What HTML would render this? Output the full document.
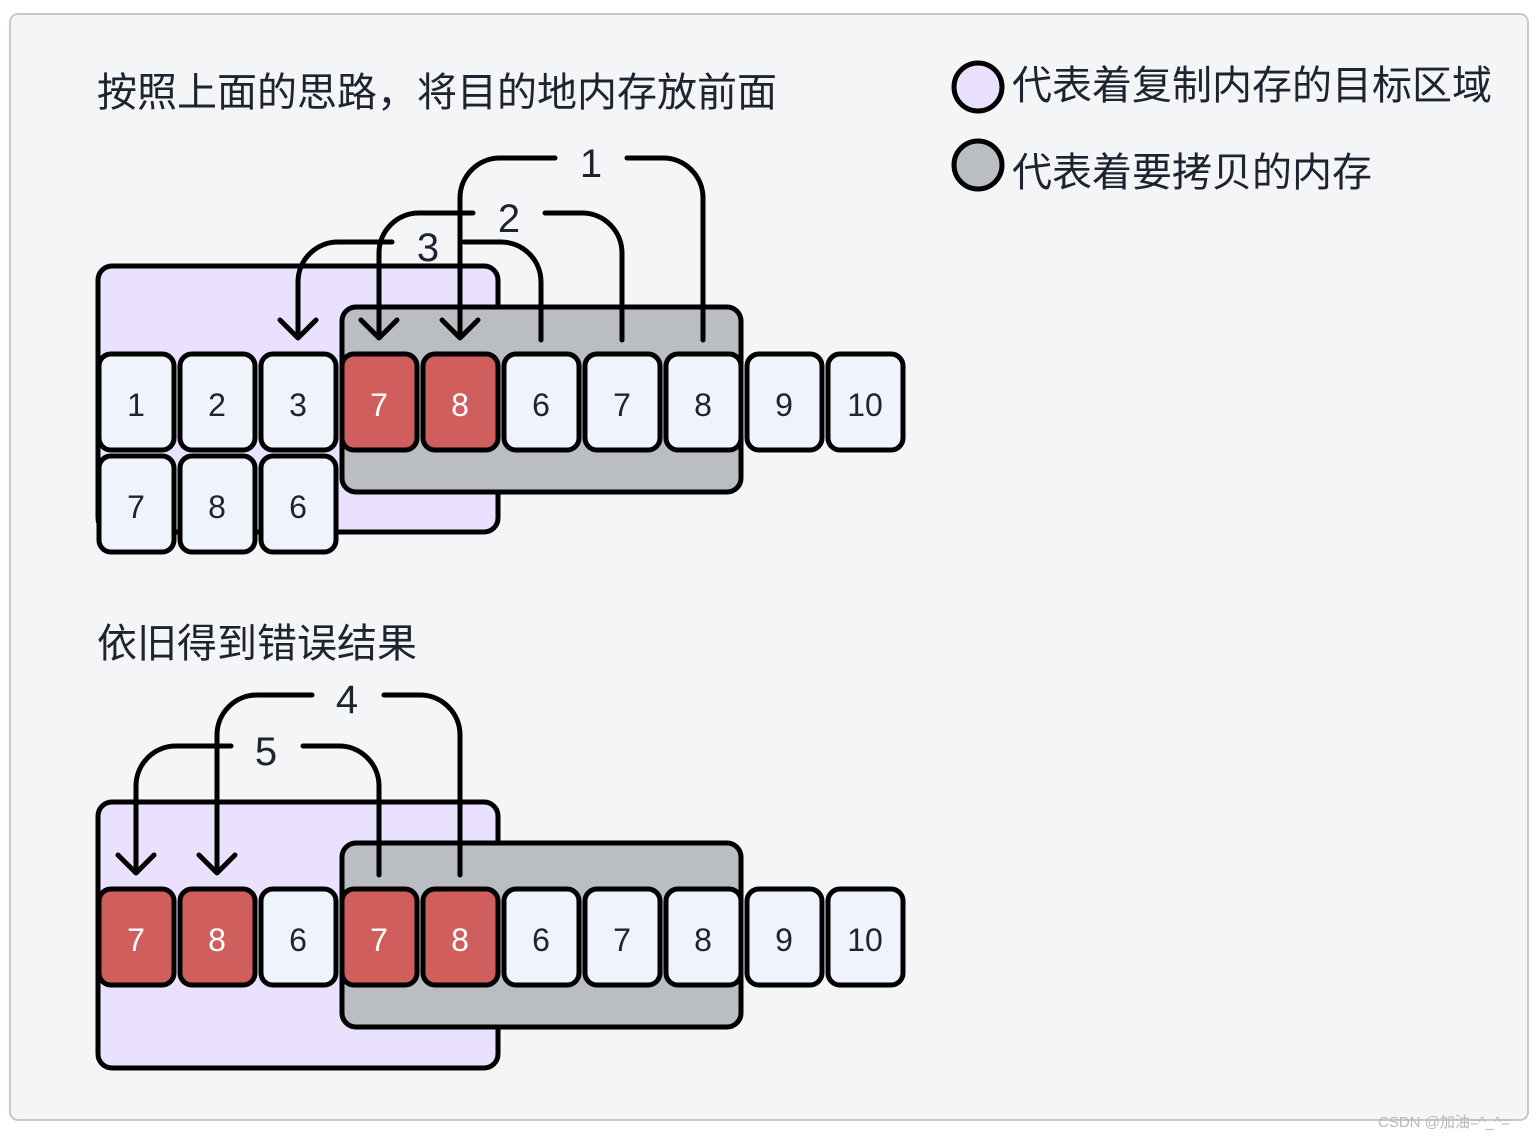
<!DOCTYPE html>
<html><head><meta charset="utf-8"><style>
html,body{margin:0;padding:0;background:#fff;}
svg{display:block;}
text{font-family:"Liberation Sans","Noto Sans CJK SC",sans-serif;fill:#1f2330;}
.c{stroke:#000;stroke-width:5;}
.a{fill:none;stroke:#000;stroke-width:5;stroke-linecap:round;stroke-linejoin:round;}
.n{font-size:32px;text-anchor:middle;}
.w{fill:#fff;}
</style></head><body>
<svg width="1540" height="1139" viewBox="0 0 1540 1139" xmlns="http://www.w3.org/2000/svg">
<rect x="0" y="0" width="1540" height="1139" fill="#fff"/>
<rect x="10" y="14" width="1518" height="1106" rx="8" fill="#f4f5f7" stroke="#c8c8cc" stroke-width="2"/>

<text x="97" y="106" font-size="40">按照上面的思路，将目的地内存放前面</text>
<text x="97" y="657" font-size="40">依旧得到错误结果</text>

<circle cx="978" cy="87" r="24" fill="#e9e1fd" stroke="#000" stroke-width="5"/>
<text x="1012" y="99" font-size="40">代表着复制内存的目标区域</text>
<circle cx="978" cy="165" r="24" fill="#babdc1" stroke="#000" stroke-width="5"/>
<text x="1012" y="186" font-size="40">代表着要拷贝的内存</text>

<!-- TOP -->
<rect x="98" y="266" width="400" height="266" rx="14" fill="#e9e1fd" class="c"/>
<rect x="342" y="307" width="399" height="185" rx="14" fill="#babdc1" class="c"/>
<g>
<rect x="99" y="354" width="75" height="96" rx="12" fill="#eff3fb" class="c"/><text class="n" x="136" y="416">1</text>
<rect x="180" y="354" width="75" height="96" rx="12" fill="#eff3fb" class="c"/><text class="n" x="217" y="416">2</text>
<rect x="261" y="354" width="75" height="96" rx="12" fill="#eff3fb" class="c"/><text class="n" x="298" y="416">3</text>
<rect x="342" y="354" width="75" height="96" rx="12" fill="#d05e5c" class="c"/><text class="n w" x="379" y="416" style="fill:#fff">7</text>
<rect x="423" y="354" width="75" height="96" rx="12" fill="#d05e5c" class="c"/><text class="n" x="460" y="416" style="fill:#fff">8</text>
<rect x="504" y="354" width="75" height="96" rx="12" fill="#eff3fb" class="c"/><text class="n" x="541" y="416">6</text>
<rect x="585" y="354" width="75" height="96" rx="12" fill="#eff3fb" class="c"/><text class="n" x="622" y="416">7</text>
<rect x="666" y="354" width="75" height="96" rx="12" fill="#eff3fb" class="c"/><text class="n" x="703" y="416">8</text>
<rect x="747" y="354" width="75" height="96" rx="12" fill="#eff3fb" class="c"/><text class="n" x="784" y="416">9</text>
<rect x="828" y="354" width="75" height="96" rx="12" fill="#eff3fb" class="c"/><text class="n" x="865" y="416">10</text>
<rect x="99" y="456" width="75" height="96" rx="12" fill="#eff3fb" class="c"/><text class="n" x="136" y="518">7</text>
<rect x="180" y="456" width="75" height="96" rx="12" fill="#eff3fb" class="c"/><text class="n" x="217" y="518">8</text>
<rect x="261" y="456" width="75" height="96" rx="12" fill="#eff3fb" class="c"/><text class="n" x="298" y="518">6</text>
</g>
<!-- arrow 1 -->
<path class="a" d="M703 340 V198 A40 40 0 0 0 663 158 H627"/>
<path class="a" d="M555 158 H500 A40 40 0 0 0 460 198 V338 M442 320 L460 338 L478 320"/>
<text x="591" y="177" font-size="40" text-anchor="middle">1</text>
<!-- arrow 2 -->
<path class="a" d="M622 340 V253 A40 40 0 0 0 582 213 H545"/>
<path class="a" d="M473 213 H419 A40 40 0 0 0 379 253 V338 M361 320 L379 338 L397 320"/>
<text x="509" y="232" font-size="40" text-anchor="middle">2</text>
<!-- arrow 3 -->
<path class="a" d="M541 340 V282 A40 40 0 0 0 501 242 H464"/>
<path class="a" d="M392 242 H338 A40 40 0 0 0 298 282 V338 M280 320 L298 338 L316 320"/>
<text x="428" y="261" font-size="40" text-anchor="middle">3</text>

<!-- BOTTOM -->
<rect x="98" y="802" width="400" height="266" rx="14" fill="#e9e1fd" class="c"/>
<rect x="342" y="843" width="399" height="184" rx="14" fill="#babdc1" class="c"/>
<g>
<rect x="99" y="889" width="75" height="96" rx="12" fill="#d05e5c" class="c"/><text class="n" x="136" y="951" style="fill:#fff">7</text>
<rect x="180" y="889" width="75" height="96" rx="12" fill="#d05e5c" class="c"/><text class="n" x="217" y="951" style="fill:#fff">8</text>
<rect x="261" y="889" width="75" height="96" rx="12" fill="#eff3fb" class="c"/><text class="n" x="298" y="951">6</text>
<rect x="342" y="889" width="75" height="96" rx="12" fill="#d05e5c" class="c"/><text class="n" x="379" y="951" style="fill:#fff">7</text>
<rect x="423" y="889" width="75" height="96" rx="12" fill="#d05e5c" class="c"/><text class="n" x="460" y="951" style="fill:#fff">8</text>
<rect x="504" y="889" width="75" height="96" rx="12" fill="#eff3fb" class="c"/><text class="n" x="541" y="951">6</text>
<rect x="585" y="889" width="75" height="96" rx="12" fill="#eff3fb" class="c"/><text class="n" x="622" y="951">7</text>
<rect x="666" y="889" width="75" height="96" rx="12" fill="#eff3fb" class="c"/><text class="n" x="703" y="951">8</text>
<rect x="747" y="889" width="75" height="96" rx="12" fill="#eff3fb" class="c"/><text class="n" x="784" y="951">9</text>
<rect x="828" y="889" width="75" height="96" rx="12" fill="#eff3fb" class="c"/><text class="n" x="865" y="951">10</text>
</g>
<!-- arrow 4 -->
<path class="a" d="M460 875 V735 A40 40 0 0 0 420 695 H384"/>
<path class="a" d="M312 695 H257 A40 40 0 0 0 217 735 V873 M199 855 L217 873 L235 855"/>
<text x="347" y="713" font-size="40" text-anchor="middle">4</text>
<!-- arrow 5 -->
<path class="a" d="M379 875 V786 A40 40 0 0 0 339 746 H303"/>
<path class="a" d="M231 746 H176 A40 40 0 0 0 136 786 V873 M118 855 L136 873 L154 855"/>
<text x="266" y="765" font-size="40" text-anchor="middle">5</text>

<text x="1378" y="1127" font-size="15" style="fill:#b8b8b8">CSDN @加油=^_^=</text>
</svg>
</body></html>
